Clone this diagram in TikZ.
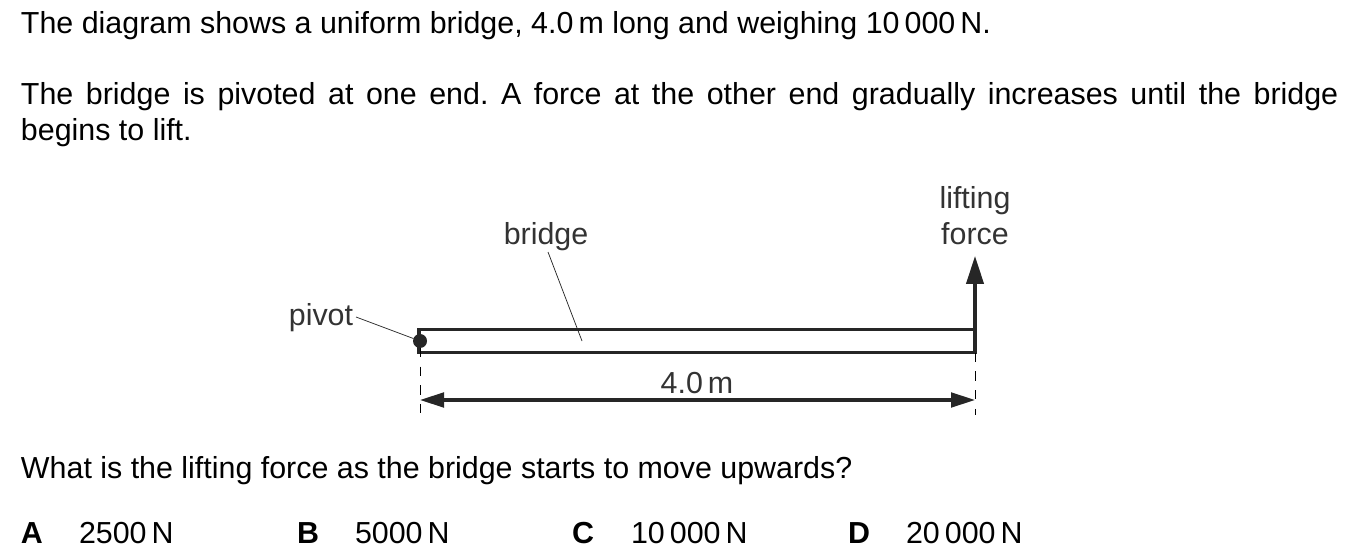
\documentclass[tikz,border=0pt]{standalone}
\usepackage{fontspec}
\setmainfont{Liberation Sans}
\frenchspacing
\usetikzlibrary{arrows.meta, positioning}

\begin{document}
\begin{tikzpicture}[
    x=0.75pt, y=-0.75pt,
    bighead/.tip={Triangle[length=21pt, width=13pt]},
    dimhead/.tip={Triangle[length=18pt, width=11pt]},
    every node/.style={font={\fontsize{22.8pt}{27pt}\selectfont}, inner sep=0pt, outer sep=0pt},
    para/.style={anchor=base west, text width=988pt, align=justify},
    label/.style={anchor=base, text=black!80},
    letter/.style={anchor=base west, font={\fontsize{22.8pt}{27pt}\selectfont\bfseries}},
    answer/.style={anchor=base west},
    leader/.style={line width=0.55pt, black!85},
    guide/.style={line width=0.55pt, dash pattern=on 7pt off 7pt},
    thickline/.style={line width=2.3pt, black!85}
  ]

  \useasboundingbox (0,0) rectangle (1353,559);

  % question text
  \node[para] (intro) at (21,34) {The diagram shows a uniform bridge, 4.0\,m long and weighing 10\,000\,N.};
  \node[para] (setup) at (21,104.5) {The bridge is pivoted at one end. A force at the other end gradually increases until the bridge\linebreak begins to lift.};
  \node[para] (question) at (21,479) {What is the lifting force as the bridge starts to move upwards?};

  % bridge
  \node[draw, thickline, minimum width=417pt, minimum height=17.5pt, anchor=north west] (bridge) at (419,329.5) {};
  \node[circle, fill=black!85, minimum size=10.5pt] (hinge) at (420,341) {};
  \coordinate (bridgeend) at (582,341);
  \coordinate (forcetip) at (975,256);
  \coordinate (leftdrop) at (420,415);
  \coordinate (rightdrop) at (975,415);
  \coordinate (leftdim) at (420,400);
  \coordinate (rightdim) at (975,400);

  % labels
  \node[label] (bridgelabel) at (546,245) {bridge};
  \node[label] (pivotlabel) at (321,326) {pivot};
  \node[label] (liftlabel) at (975,209) {lifting};
  \node[label] (forcelabel) at (975,245) {force};
  \node[label] (lengthlabel) at (697,394) {4.0\,m};

  % leaders and arrows
  \draw[leader] (356,317) -- (hinge);
  \draw[leader] (548,252) -- (bridgeend);
  \draw[guide] (hinge) -- (leftdrop);
  \draw[guide] (bridge.south east) -- (rightdrop);
  \draw[thickline, -{bighead}] (bridge.south east) -- (forcetip);
  \draw[thickline, {dimhead}-{dimhead}] (leftdim) -- (rightdim);

  % answers
  \node[letter] (a) at (21,543) {A};
  \node[answer] (aval) at (79,543) {2500\,N};
  \node[letter] (b) at (297,543) {B};
  \node[answer] (bval) at (355,543) {5000\,N};
  \node[letter] (c) at (572,543) {C};
  \node[answer] (cval) at (631,543) {10\,000\,N};
  \node[letter] (d) at (848,543) {D};
  \node[answer] (dval) at (906,543) {20\,000\,N};

\end{tikzpicture}
\end{document}
